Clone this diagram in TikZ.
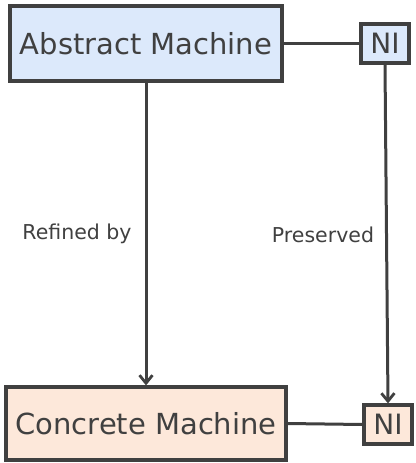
\documentclass[tikz,border=0pt]{standalone}
\usepackage{fontspec}
\setmainfont{DejaVu Sans}
\usetikzlibrary{arrows.meta}
\definecolor{ink}{HTML}{404040}
\definecolor{abstractfill}{HTML}{DCE9FB}
\definecolor{concretefill}{HTML}{FDE8DA}
\tikzset{
  machine/.style={draw=ink, line width=3.2pt, text=ink, inner sep=0pt,
    font=\fontsize{29}{33}\selectfont},
  nibox/.style={draw=ink, line width=3.2pt, text=ink, inner sep=0pt,
    minimum width=48pt, minimum height=39pt, font=\fontsize{28}{31}\selectfont},
  link/.style={draw=ink, line width=3pt},
  flow/.style={link, -{Straight Barb[length=8pt, width=13pt, line width=2.8pt]}},
  edgelabel/.style={text=ink, font=\fontsize{20.5}{24}\selectfont}
}
\begin{document}
\begin{tikzpicture}[x=1pt, y=-1pt]
  \useasboundingbox (0,0) rectangle (415,463);
  % machines
  \node[machine, fill=abstractfill, minimum width=272pt, minimum height=75pt]
    (am) at (146,43.5) {Abstract Machine};
  \node[machine, fill=concretefill, minimum width=280pt, minimum height=73pt]
    (cm) at (146,423.5) {Concrete Machine};
  % noninterference tags
  \node[nibox, fill=abstractfill] (niA) at (385,43.5) {NI};
  \node[nibox, fill=concretefill] (niC) at (388,424.5) {NI};
  % connections
  \draw[link] (am.east) -- (niA.west);
  \draw[link] (cm.east) -- (niC.west);
  \draw[flow] (am.south) -- (cm.north);
  \draw[flow] (niA.south) -- (niC.north);
  % labels
  \node[edgelabel] (refined) at (77,234) {Refined by};
  \node[edgelabel] (preserved) at (323,235) {Preserved};
\end{tikzpicture}
\end{document}
